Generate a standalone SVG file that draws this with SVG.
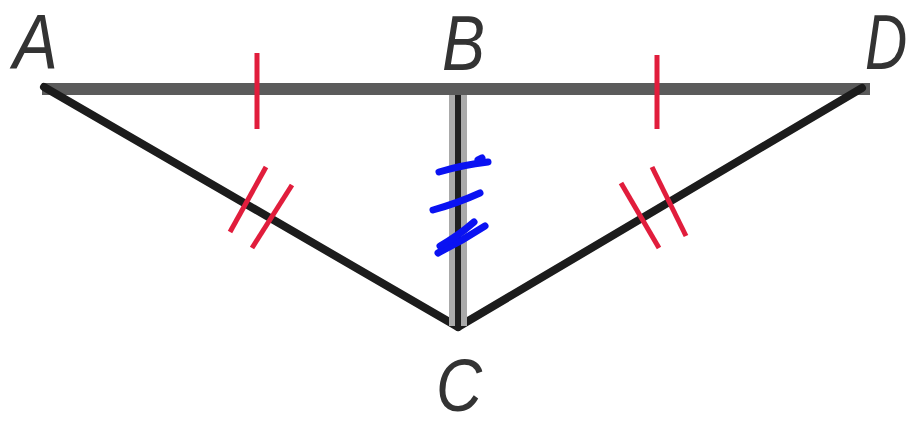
<svg xmlns="http://www.w3.org/2000/svg" width="914" height="428" viewBox="0 0 914 428">
  <style>
    .lbl { font-family: "Liberation Sans", "DejaVu Sans", sans-serif; font-style: italic; font-size: 77px; fill: #333333; }
    .seg { stroke: #1c1c1c; stroke-width: 8; stroke-linecap: round; fill: none; }
    .red { stroke: #e11d3c; stroke-width: 5; stroke-linecap: butt; fill: none; }
    .blue { stroke: #0a12f2; stroke-width: 7; stroke-linecap: round; fill: none; }
  </style>
  <rect width="914" height="428" fill="#ffffff"/>
  <g id="connectors">
    <line id="AD" x1="42" y1="89" x2="870" y2="89" stroke="#5b5b5b" stroke-width="12"/>
    <line id="AC" class="seg" x1="44" y1="87" x2="458" y2="327"/>
    <line id="DC" class="seg" x1="862" y1="88" x2="458" y2="327"/>
    <line id="BC-outer" x1="458" y1="95" x2="458" y2="326" stroke="#aaaaaa" stroke-width="18"/>
    <line id="BC" x1="458" y1="95" x2="458" y2="330" stroke="#1e1e1e" stroke-width="6"/>
  </g>
  <g id="marks">
    <line class="red" x1="257" y1="53" x2="257" y2="129"/>
    <line class="red" x1="657" y1="55" x2="657" y2="129"/>
    <line class="red" x1="266" y1="167" x2="230" y2="232"/>
    <line class="red" x1="292" y1="185" x2="252" y2="248"/>
    <line class="red" x1="652" y1="167" x2="686" y2="236"/>
    <line class="red" x1="621" y1="183" x2="659" y2="248"/>
    <path class="blue" d="M439 172 Q462 165 488 162"/>
    <path class="blue" d="M478 160 L482 158" stroke-width="4"/>
    <path class="blue" d="M433 210 Q458 203 480 193"/>
    <path class="blue" d="M438 253 Q462 241 485 226"/>
    <path class="blue" d="M440 246 Q458 236 474 222" stroke-width="5"/>
  </g>
  <g id="A"><text class="lbl" x="13" y="69" textLength="45" lengthAdjust="spacingAndGlyphs">A</text></g>
  <g id="B"><text class="lbl" x="442" y="70" textLength="43" lengthAdjust="spacingAndGlyphs">B</text></g>
  <g id="D"><text class="lbl" transform="translate(865,69) scale(0.76,1)">D</text></g>
  <g id="C"><text class="lbl" x="436" y="411" textLength="46" lengthAdjust="spacingAndGlyphs" style="font-size:74px">C</text></g>
</svg>
